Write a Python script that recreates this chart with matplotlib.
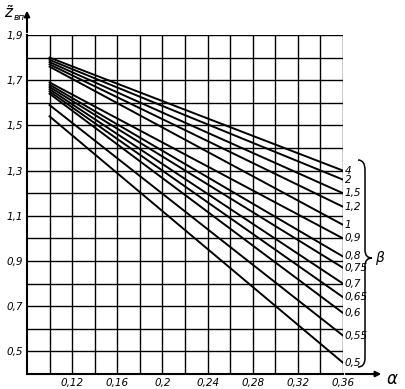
import matplotlib
matplotlib.use('Agg')
import matplotlib.pyplot as plt
from matplotlib.path import Path
from matplotlib.patches import PathPatch
import numpy as np

alpha_span = [0.10, 0.36]
beta_labels = ['4', '2', '1,5', '1,2', '1', '0,9', '0,8', '0,75', '0,7', '0,65', '0,6', '0,55', '0,5']
z_start = [1.80, 1.79, 1.78, 1.77, 1.76, 1.69, 1.68, 1.67, 1.66, 1.65, 1.64, 1.59, 1.54]
z_end = [1.30, 1.26, 1.20, 1.14, 1.06, 1.00, 0.92, 0.87, 0.80, 0.74, 0.67, 0.57, 0.45]

x_ticks = [0.12, 0.16, 0.20, 0.24, 0.28, 0.32, 0.36]
x_ticklabels = ['0,12', '0,16', '0,2', '0,24', '0,28', '0,32', '0,36']
y_ticks = [0.5, 0.7, 0.9, 1.1, 1.3, 1.5, 1.7, 1.9]
y_ticklabels = ['0,5', '0,7', '0,9', '1,1', '1,3', '1,5', '1,7', '1,9']

W, H = 406, 389
fig = plt.figure(figsize=(W / 100, H / 100), dpi=100)
ax = fig.add_axes([27 / W, 15 / H, 316 / W, 339 / H])
ax.set_xlim(0.08, 0.36)
ax.set_ylim(0.4, 1.9)

# square grid
for gx in np.arange(0.10, 0.361, 0.02):
    ax.axvline(gx, color='black', lw=1.0, zorder=1)
for gy in np.arange(0.5, 1.91, 0.1):
    ax.axhline(gy, color='black', lw=1.0, zorder=1)

for zs, ze, lab in zip(z_start, z_end, beta_labels):
    ax.plot(alpha_span, [zs, ze], color='black', lw=1.4, zorder=2)
    ax.text(0.3615, ze, lab, fontsize=7.5, style='italic', ha='left', va='center',
            clip_on=False)

ax.set_xticks(x_ticks)
ax.set_xticklabels(x_ticklabels, fontsize=7.5, style='italic')
ax.set_yticks(y_ticks)
ax.set_yticklabels(y_ticklabels, fontsize=7.5, style='italic')
ax.tick_params(length=0, pad=3)
for s in ['top', 'right']:
    ax.spines[s].set_visible(False)
for s in ['left', 'bottom']:
    ax.spines[s].set_linewidth(1.5)

# axis arrows
ax.annotate('', xy=(0, 1.08), xytext=(0, 1.0), xycoords='axes fraction',
            arrowprops=dict(arrowstyle='-|>', lw=1.5, color='black', mutation_scale=8),
            annotation_clip=False)
ax.annotate('', xy=(1.13, 0), xytext=(1.0, 0), xycoords='axes fraction',
            arrowprops=dict(arrowstyle='-|>', lw=1.5, color='black', mutation_scale=8),
            annotation_clip=False)

def fx(px):
    return px / W

def fy(py):
    return 1 - py / H

fig.text(fx(392), fy(379), r'$\alpha$', fontsize=12, ha='center', va='center')
fig.text(fx(9), fy(13), r'$\tilde{z}$', fontsize=11, ha='center', va='center')
fig.text(fx(19), fy(17), 'вп', fontsize=6.5, style='italic', ha='center', va='center')

# brace for beta
pts = [(358, 160), (365, 160), (365, 170), (365, 250), (365, 258), (372, 258),
       (365, 258), (365, 266), (365, 358), (365, 367), (358, 367)]
codes = [Path.MOVETO, Path.CURVE3, Path.CURVE3, Path.LINETO, Path.CURVE3, Path.CURVE3,
         Path.CURVE3, Path.CURVE3, Path.LINETO, Path.CURVE3, Path.CURVE3]
brace = Path([(fx(a), fy(b)) for a, b in pts], codes)
fig.add_artist(PathPatch(brace, transform=fig.transFigure, fill=False, lw=1.1, color='black'))
fig.text(fx(380), fy(258), r'$\beta$', fontsize=10, ha='center', va='center')

fig.savefig('out.png', dpi=100)
